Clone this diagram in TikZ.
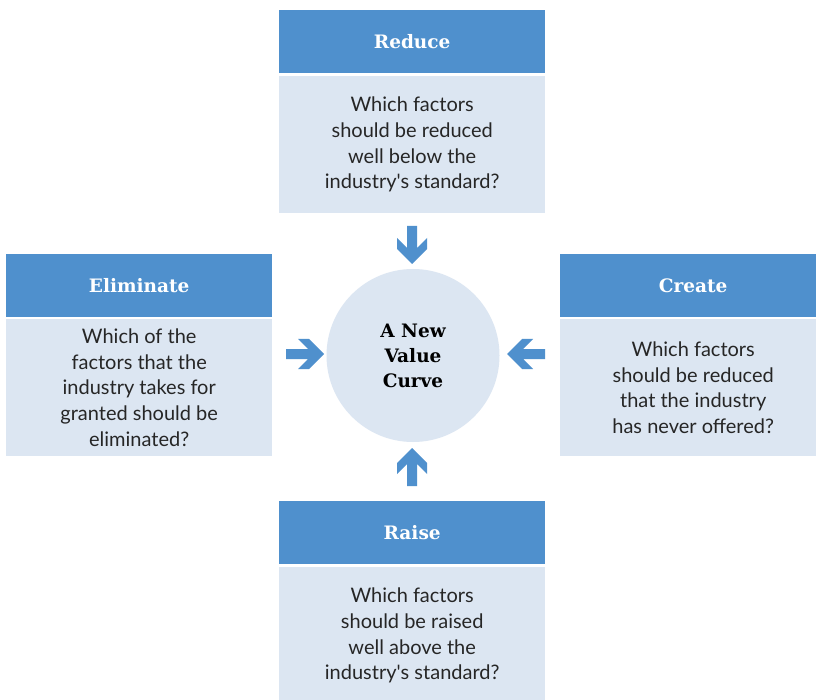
\documentclass[tikz,border=0pt]{standalone}
\usepackage{fontspec}
\setmainfont{Lato}
\newfontfamily\headfont{DejaVu Serif}
\definecolor{hdr}{HTML}{4F90CD}
\definecolor{bodyc}{HTML}{DCE6F2}
\definecolor{txt}{HTML}{262626}
\begin{document}
\begin{tikzpicture}[x=1pt,y=-1pt,
  hdrbox/.style={rectangle, fill=hdr, minimum width=266pt, minimum height=63pt, inner sep=0pt, anchor=north west, text=white, font=\headfont\bfseries\fontsize{18.5}{22}\selectfont},
  bodybox/.style={rectangle, fill=bodyc, minimum width=266pt, minimum height=137pt, inner sep=0pt, anchor=north west, text=txt, align=center, font=\fontsize{20}{25.6}\selectfont},
  centre/.style={circle, fill=bodyc, minimum size=173pt, inner sep=0pt, align=center, text=black, font=\headfont\bfseries\fontsize{18.5}{25}\selectfont},
  blockarr/.style={fill=hdr}
]
\clip (0,0) rectangle (816,700);
\fill[white] (0,0) rectangle (816,700);
% boxes
\node[hdrbox] (rh) at (279,10) {Reduce};
\node[bodybox] (rb) at (279,76) {Which factors\\should be reduced\\well below the\\industry\textquotesingle s standard?};
\node[hdrbox] (eh) at (6,254) {Eliminate};
\node[bodybox] (eb) at (6,319) {Which of the\\factors that the\\industry takes for\\granted should be\\eliminated?};
\node[hdrbox] (ch) at (560,254) {Create};
\node[bodybox] (cb) at (560,319) {Which factors\\should be reduced\\that the industry\\has never offered?};
\node[hdrbox] (ah) at (279,501) {Raise};
\node[bodybox] (ab) at (279,567) {Which factors\\should be raised\\well above the\\industry\textquotesingle s standard?};
% centre
\node[centre] (c) at (413,355.5) {A New\\Value\\Curve};
% arrow tips
\coordinate (tT) at (412,264);
\coordinate (tB) at (412,448);
\coordinate (tL) at (324,354);
\coordinate (tR) at (507,354);
\foreach \p/\a in {tT/-90, tB/90, tL/0, tR/180}{
  \fill[blockarr, shift={(\p)}, rotate=\a]
    (-38,5) -- (-16,5) -- (-26,15) -- (-15,15) -- (0,0) -- (-15,-15) -- (-26,-15) -- (-16,-5) -- (-38,-5) -- cycle;
}
\end{tikzpicture}
\end{document}
